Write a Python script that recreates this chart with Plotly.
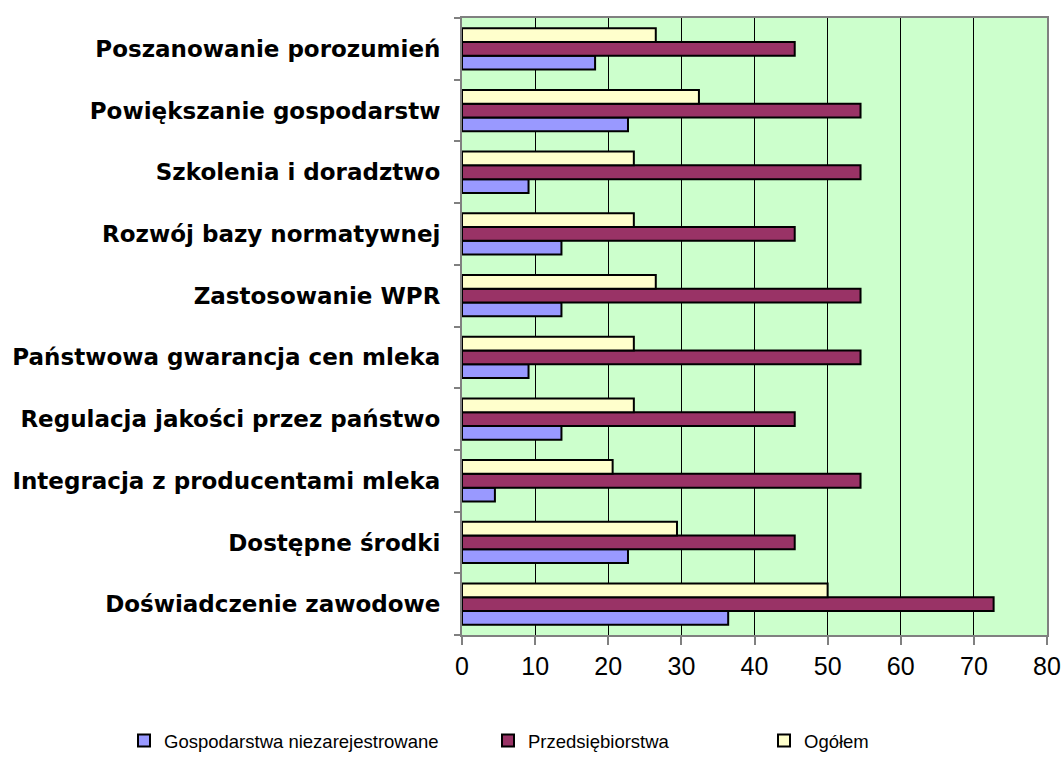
import plotly.graph_objects as go

categories = [
    "Doświadczenie zawodowe",
    "Dostępne środki",
    "Integracja z producentami mleka",
    "Regulacja jakości przez państwo",
    "Państwowa gwarancja cen mleka",
    "Zastosowanie WPR",
    "Rozwój bazy normatywnej",
    "Szkolenia i doradztwo",
    "Powiększanie gospodarstw",
    "Poszanowanie porozumień",
]
gospodarstwa = [36.4, 22.7, 4.5, 13.6, 9.1, 13.6, 13.6, 9.1, 22.7, 18.2]
przedsiebiorstwa = [72.7, 45.5, 54.5, 45.5, 54.5, 54.5, 45.5, 54.5, 54.5, 45.5]
ogolem = [50.0, 29.4, 20.6, 23.5, 23.5, 26.5, 23.5, 23.5, 32.4, 26.5]

series_names = ["Gospodarstwa niezarejestrowane", "Przedsiębiorstwa", "Ogółem"]
colors = ["#9999FF", "#993366", "#FFFFCC"]
x_ticks = [0, 10, 20, 30, 40, 50, 60, 70, 80]

fig = go.Figure()
for i, (name, vals, col) in enumerate(zip(series_names, [gospodarstwa, przedsiebiorstwa, ogolem], colors)):
    fig.add_trace(go.Bar(
        y=categories, x=vals, name=name, orientation="h",
        marker=dict(color=col, line=dict(color="black", width=2)),
        legend="legend" if i == 0 else f"legend{i+1}",
    ))

W, H = 1064, 781
L, R, T, B = 462, 17, 18, 146
pw = W - L - R
ph = H - T - B

def lx(px):
    return (px - L) / pw

def ly(py):
    return (H - B - py) / ph

leg_common = dict(orientation="h", yanchor="middle", y=ly(741),
                  font=dict(family="Liberation Sans, Arial", size=18.5, color="black"),
                  bgcolor="rgba(0,0,0,0)", itemwidth=30, xanchor="left")

fig.update_layout(
    width=W, height=H,
    margin=dict(l=L, r=R, t=T, b=B, autoexpand=False),
    barmode="group", bargap=0.33, bargroupgap=0,
    plot_bgcolor="#CCFFCC", paper_bgcolor="white",
    font=dict(family="Liberation Sans, Arial", color="black"),
    showlegend=True,
    legend=dict(**leg_common, x=lx(124)),
    legend2=dict(**leg_common, x=lx(488)),
    legend3=dict(**leg_common, x=lx(764)),
    xaxis=dict(range=[0, 80], tickvals=x_ticks, showgrid=True, gridcolor="black", gridwidth=1,
               ticks="outside", ticklen=8, tickcolor="#808080", tickwidth=1.5,
               showline=True, linecolor="#808080", linewidth=2, mirror=True,
               tickfont=dict(size=25, family="Liberation Sans, Arial"), zeroline=False,
               automargin=False),
    yaxis=dict(ticks="outside", tickson="boundaries", ticklen=6, tickcolor="#808080", tickwidth=1.5,
               showline=True, linecolor="#808080", linewidth=2, mirror=True,
               tickfont=dict(size=23, family="DejaVu Sans"), showgrid=False,
               ticklabelstandoff=15, automargin=False),
)
fig.update_yaxes(ticktext=[f"<b>{c}</b>" for c in categories], tickvals=categories)
fig.write_html("out.html", config={"displayModeBar": False},
               post_script="document.body.style.margin='0';document.body.style.overflow='hidden';")
